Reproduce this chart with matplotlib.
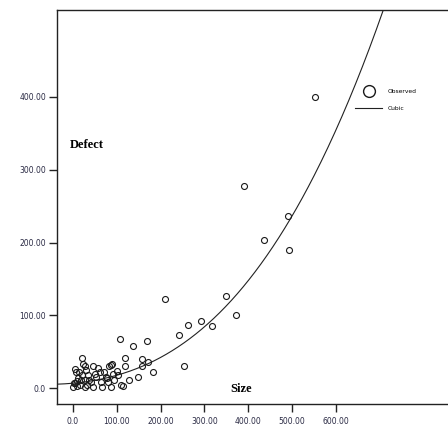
import numpy as np
import matplotlib
matplotlib.use("Agg")
import matplotlib.pyplot as plt
from matplotlib.lines import Line2D

# observed points (Size, Defect)
size = [1, 3, 5, 5, 8, 12, 16, 20, 20, 24, 27, 27, 27, 35, 42, 46, 46, 54, 61, 65,
        67, 75, 77, 83, 88, 88, 90, 92, 103, 109, 114, 118, 118, 128, 149, 158, 158,
        172, 182, 254, 108, 137, 169, 243, 262, 10, 14, 30, 38, 50, 58, 70, 80, 95,
        100, 10, 18, 33,
        211, 350, 372, 292, 317, 389, 490, 435, 493, 552]
defect = [2, 7, 7, 27, 23, 14, 5, 18, 42, 34, 30, 11, 2, 18, 9, 30, 2, 16, 23, 9,
          2, 16, 14, 30, 32, 2, 34, 20, 18, 5, 3, 41, 30, 11, 16, 40, 31,
          36, 23, 30, 68, 58, 65, 73, 87, 10, 22, 25, 12, 20, 28, 22, 8, 12,
          24, 3, 12, 5,
          122, 127, 100, 93, 85, 278, 237, 203, 190, 400]

# cubic fit coefficients (b0, b1, b2, b3)
cubic = [7.0, 0.0533, 0.0004875, 6.5e-7]

xticks = [0, 100, 200, 300, 400, 500, 600]
yticks = [0, 100, 200, 300, 400]

W, H = 448, 425
fig = plt.figure(figsize=(W / 100, H / 100), dpi=100)
ax = fig.add_axes([57 / W, (H - 404) / H, (W - 57) / W, 394 / H])

ax.set_xlim(-36, 855)
ax.set_ylim(-21.5, 519)

xx = np.linspace(-36, 860, 400)
yy = cubic[0] + cubic[1] * xx + cubic[2] * xx ** 2 + cubic[3] * xx ** 3
ax.plot(xx, yy, color="#222222", lw=0.8)
ax.plot(size, defect, "o", ms=4.3, mfc="none", mec="#1a1a1a", mew=0.8, ls="none")

for s in ["left", "bottom", "top"]:
    ax.spines[s].set_linewidth(1.0)
    ax.spines[s].set_color("#222222")
ax.spines["right"].set_visible(False)

tick_col = "#2a2a44"
ax.set_xticks(xticks)
ax.set_xticklabels(["0.0" if v == 0 else "%.2f" % v for v in xticks])
ax.set_yticks(yticks)
ax.set_yticklabels(["0.0" if v == 0 else "%.2f" % v for v in yticks])
ax.tick_params(axis="both", direction="out", length=6, width=1.0,
               labelsize=5.5, labelcolor=tick_col, color="#222222", pad=2)
ax.tick_params(axis="x", pad=3)

fig.text(70 / W, 1 - 145 / H, "Defect", fontsize=9, fontweight="bold",
         family="Liberation Serif", va="center", ha="left")
fig.text(230 / W, 1 - 389 / H, "Size", fontsize=9, fontweight="bold",
         family="Liberation Serif", va="center", ha="left")

handles = [Line2D([], [], marker="o", ms=8.5, mfc="none", mec="#1a1a1a", mew=1.0, ls="none"),
           Line2D([], [], color="#222222", lw=0.8)]
ax.legend(handles, ["Observed", "Cubic"], loc="upper left",
          bbox_to_anchor=(355 / W, 1 - 89 / H), bbox_transform=fig.transFigure,
          frameon=False, fontsize=4.3, handlelength=4.6, handletextpad=0.9,
          labelspacing=1.9, borderpad=0, borderaxespad=0)

fig.savefig("out.png", dpi=100)
